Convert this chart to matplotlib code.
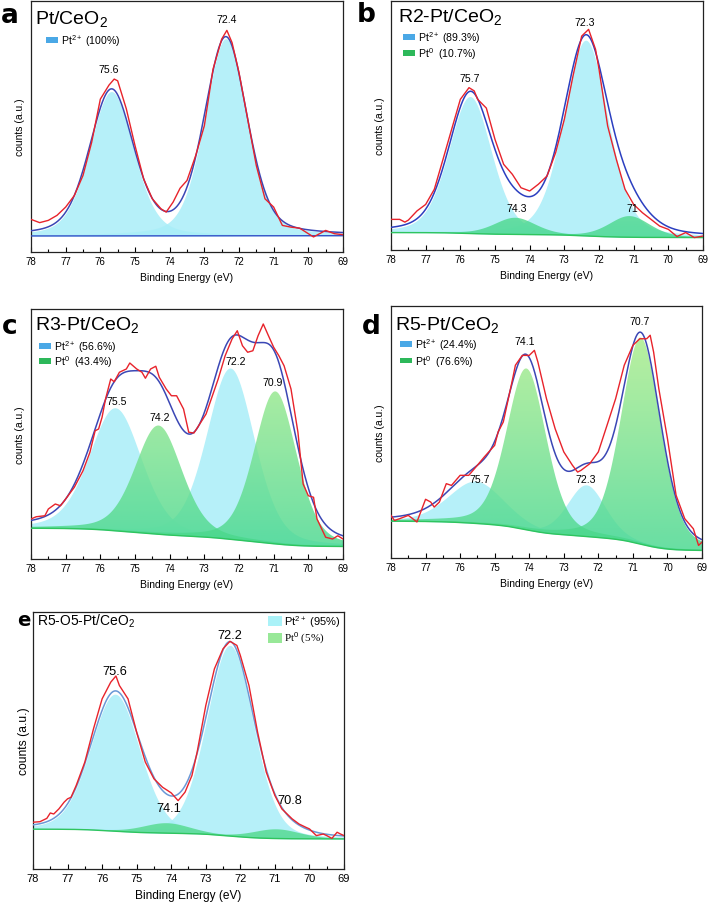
import numpy as np
import matplotlib
matplotlib.use("Agg")
import matplotlib.pyplot as plt
from matplotlib.patches import Rectangle
from matplotlib.colors import LinearSegmentedColormap

plt.rcParams['font.family'] = ['Liberation Sans', 'DejaVu Sans']
plt.rcParams['mathtext.fontset'] = 'custom'
plt.rcParams['mathtext.rm'] = 'Liberation Sans'
plt.rcParams['mathtext.it'] = 'Liberation Sans:italic'
plt.rcParams['mathtext.bf'] = 'Liberation Sans:bold'

# ---------------- DATA ----------------
x_ticks = [78, 77, 76, 75, 74, 73, 72, 71, 70, 69]

# Panel a : Pt/CeO2
a_raw_be = [78.0, 77.75, 77.5, 77.25, 77.0, 76.75, 76.5, 76.25, 76.0, 75.75, 75.6, 75.5, 75.25, 75.0,
            74.75, 74.5, 74.25, 74.1, 73.9, 73.7, 73.5, 73.25, 73.0, 72.75, 72.5, 72.35, 72.2, 72.0,
            71.75, 71.5, 71.25, 71.0, 70.75, 70.5, 70.25, 70.0, 69.85, 69.5, 69.25, 69.0]
a_raw = [13.0, 11.7, 12.6, 14.6, 17.9, 22.5, 30.5, 43.7, 60.9, 66.5, 68.9, 68.2, 57.0, 42.4,
         29.1, 21.2, 17.2, 15.9, 19.9, 25.4, 28.5, 38.4, 50.3, 72.8, 84.8, 88.3, 83.4, 71.5,
         53.0, 34.4, 21.2, 17.9, 10.6, 9.9, 9.5, 7.3, 6.0, 8.6, 7.3, 6.9]
a_pt2_center = [75.68, 72.38]
a_pt2_height = [57.5, 78.5]
a_pt2_fwhm = [1.50, 1.45]
a_pt0_center = []
a_pt0_height = []
a_pt0_fwhm = []
a_background = [6.4, 6.5]
a_peak_labels = ["75.6", "72.4"]
a_legend = ["Pt$^{2+}$ (100%)"]

# Panel b : R2-Pt/CeO2
b_raw_be = [78.0, 77.75, 77.6, 77.5, 77.25, 77.0, 76.75, 76.5, 76.25, 76.0, 75.75, 75.6, 75.5, 75.25,
            75.0, 74.75, 74.5, 74.25, 74.0, 73.75, 73.5, 73.25, 73.0, 72.75, 72.5, 72.3, 72.1, 72.0,
            71.75, 71.5, 71.25, 71.0, 70.75, 70.5, 70.25, 70.0, 69.75, 69.5, 69.25, 69.0]
b_raw = [12.3, 12.3, 11.2, 12.0, 15.7, 18.3, 24.4, 36.4, 48.5, 60.5, 65.2, 63.9, 60.5, 57.0,
         44.4, 34.4, 30.4, 25.0, 23.7, 26.4, 29.7, 39.1, 52.5, 69.9, 85.9, 88.6, 80.6, 72.6,
         49.8, 36.4, 24.4, 18.3, 15.0, 12.3, 9.6, 8.3, 5.4, 7.0, 5.0, 5.6]
b_pt2_center = [75.72, 72.38]
b_pt2_height = [55.0, 78.6]
b_pt2_fwhm = [1.46, 1.52]
b_pt0_center = [74.42, 71.12]
b_pt0_height = [6.7, 8.5]
b_pt0_fwhm = [1.4, 1.4]
b_background = [7.0, 5.0]
b_peak_labels = ["75.7", "72.3", "74.3", "71"]
b_legend = ["Pt$^{2+}$ (89.3%)", "Pt$^{0}$  (10.7%)"]

# Panel c : R3-Pt/CeO2
c_raw_be = [78.0, 77.85, 77.6, 77.5, 77.3, 77.15, 77.0, 76.75, 76.5, 76.3, 76.15, 76.05, 75.95, 75.85,
            75.7, 75.6, 75.45, 75.25, 75.15, 74.95, 74.8, 74.7, 74.55, 74.4, 74.3, 74.1, 73.95, 73.8,
            73.6, 73.45, 73.3, 73.1, 72.95, 72.8, 72.6, 72.4, 72.2, 72.05, 71.9, 71.75, 71.6, 71.45,
            71.3, 71.15, 71.0, 70.85, 70.7, 70.5, 70.3, 70.15, 70.0, 69.85, 69.75, 69.5, 69.3, 69.15, 69.0]
c_raw = [16.0, 16.9, 17.3, 20.0, 22.0, 21.3, 24.0, 28.7, 35.3, 42.7, 51.3, 52.0, 56.7, 64.0,
         72.0, 70.9, 74.7, 76.0, 78.4, 76.0, 74.7, 72.3, 76.0, 77.1, 72.7, 68.0, 65.3, 65.3,
         60.0, 50.7, 50.4, 54.7, 58.0, 64.0, 72.0, 81.3, 88.0, 91.3, 85.3, 82.7, 83.3, 89.3,
         94.0, 89.3, 84.7, 81.3, 77.3, 68.0, 50.7, 30.0, 25.3, 24.7, 16.0, 8.7, 8.0, 9.3, 8.0]
c_pt2_center = [75.57, 72.25]
c_pt2_height = [49.2, 68.5]
c_pt2_fwhm = [1.78, 1.63]
c_pt0_center = [74.32, 70.95]
c_pt0_height = [43.5, 61.0]
c_pt0_fwhm = [1.6, 1.45]
c_background = [12.3, 5.0]
c_peak_labels = ["75.5", "74.2", "72.2", "70.9"]
c_legend = ["Pt$^{2+}$ (56.6%)", "Pt$^{0}$  (43.4%)"]

# Panel d : R5-Pt/CeO2
d_raw_be = [78.0, 77.9, 77.75, 77.5, 77.4, 77.25, 77.0, 76.85, 76.75, 76.6, 76.4, 76.25, 76.0, 75.75,
            75.5, 75.3, 75.0, 74.9, 74.75, 74.5, 74.4, 74.2, 74.0, 73.85, 73.75, 73.5, 73.25, 73.0,
            72.75, 72.6, 72.5, 72.25, 72.0, 71.75, 71.5, 71.25, 71.0, 70.8, 70.6, 70.5, 70.4, 70.25,
            70.0, 69.75, 69.5, 69.25, 69.1, 69.0]
d_raw = [16.9, 14.9, 15.6, 16.9, 15.9, 14.3, 23.3, 22.2, 20.2, 22.2, 29.5, 28.8, 32.8, 32.8,
         36.8, 40.1, 44.7, 50.0, 54.0, 69.8, 76.5, 80.4, 80.4, 82.4, 77.8, 63.2, 51.3, 42.1,
         36.8, 34.1, 34.8, 37.4, 42.1, 52.6, 63.2, 76.5, 84.4, 87.0, 87.0, 88.4, 81.7, 67.2,
         47.4, 24.9, 15.6, 11.6, 5.0, 6.3]
d_pt2_center = [75.55, 72.35]
d_pt2_height = [16.8, 20.5]
d_pt2_fwhm = [1.9, 1.3]
d_pt0_center = [74.08, 70.77]
d_pt0_height = [64.0, 82.0]
d_pt0_fwhm = [1.35, 1.35]
d_background = [14.6, 3.0]
d_peak_labels = ["75.7", "74.1", "72.3", "70.7"]
d_legend = ["Pt$^{2+}$ (24.4%)", "Pt$^{0}$  (76.6%)"]

# Panel e : R5-O5-Pt/CeO2
e_raw_be = [78.0, 77.8, 77.6, 77.5, 77.4, 77.25, 77.1, 77.0, 76.9, 76.75, 76.5, 76.25, 76.0, 75.85,
            75.75, 75.6, 75.5, 75.25, 75.0, 74.75, 74.5, 74.25, 74.1, 74.0, 73.8, 73.6, 73.4, 73.25,
            73.0, 72.75, 72.5, 72.3, 72.1, 72.0, 71.75, 71.5, 71.25, 71.0, 70.8, 70.6, 70.5, 70.3,
            70.1, 70.0, 69.8, 69.6, 69.5, 69.35, 69.2, 69.1, 69.0]
e_raw = [18.2, 18.4, 19.7, 21.8, 21.4, 23.4, 26.0, 27.3, 27.9, 32.5, 41.6, 54.5, 66.2, 70.1,
         72.7, 75.1, 71.4, 66.2, 53.2, 41.6, 35.1, 31.8, 30.5, 29.6, 26.6, 29.9, 36.4, 45.5,
         63.6, 77.9, 85.7, 88.6, 87.0, 83.1, 71.4, 53.2, 37.7, 28.6, 23.4, 20.8, 19.5, 17.5,
         16.2, 15.6, 13.0, 13.6, 13.0, 11.9, 14.3, 13.6, 13.0]
e_pt2_center = [75.62, 72.3]
e_pt2_height = [53.3, 74.2]
e_pt2_fwhm = [1.68, 1.59]
e_pt0_center = [74.13, 70.95]
e_pt0_height = [3.9, 3.6]
e_pt0_fwhm = [1.6, 1.6]
e_background = [15.5, 11.7]
e_peak_labels = ["75.6", "72.2", "74.1", "70.8"]
e_legend = ["Pt$^{2+}$ (95%)", "Pt$^{0}$ (5%)"]

# ---------------- LAYOUT / STYLE ----------------
W, H = 709, 903
def rect(l, t, r, b):
    return [l / W, (H - b) / H, (r - l) / W, (b - t) / H]

panels = [
    dict(letter="a", title="Pt/CeO$_2$", rect=rect(31, 2, 343, 253),
         raw=(a_raw_be, a_raw), pt2=(a_pt2_center, a_pt2_height, a_pt2_fwhm),
         pt0=(a_pt0_center, a_pt0_height, a_pt0_fwhm), bg=a_background, eta=0.3,
         labels=a_peak_labels, label_xy=[(75.77, 72.8), (72.36, 92.7)],
         legend=a_legend, leg_x=0.048, leg_y=[0.845], title_xy=(0.013, 0.912),
         letter_xy=(1, 23), letter_size=19, env_color="#3b47b5", big=False),
    dict(letter="b", title="R2-Pt/CeO$_2$", rect=rect(391, 2, 703, 251),
         raw=(b_raw_be, b_raw), pt2=(b_pt2_center, b_pt2_height, b_pt2_fwhm),
         pt0=(b_pt0_center, b_pt0_height, b_pt0_fwhm), bg=b_background, eta=0.3,
         labels=b_peak_labels, label_xy=[(75.74, 69.2), (72.4, 91.6), (74.36, 17.0), (71.04, 16.7)],
         legend=b_legend, leg_x=0.038, leg_y=[0.855, 0.791], title_xy=(0.022, 0.92),
         letter_xy=(357, 22), letter_size=19, env_color="#2b3fc0", big=False),
    dict(letter="c", title="R3-Pt/CeO$_2$", rect=rect(31, 310, 343, 560),
         raw=(c_raw_be, c_raw), pt2=(c_pt2_center, c_pt2_height, c_pt2_fwhm),
         pt0=(c_pt0_center, c_pt0_height, c_pt0_fwhm), bg=c_background, eta=0.3,
         labels=c_peak_labels, label_xy=[(75.53, 63.3), (74.3, 56.7), (72.1, 79.3), (71.02, 70.9)],
         legend=c_legend, leg_x=0.026, leg_y=[0.852, 0.792], title_xy=(0.013, 0.92),
         letter_xy=(2, 334), letter_size=19, env_color="#3b47b5", big=False),
    dict(letter="d", title="R5-Pt/CeO$_2$", rect=rect(391, 307, 702, 559),
         raw=(d_raw_be, d_raw), pt2=(d_pt2_center, d_pt2_height, d_pt2_fwhm),
         pt0=(d_pt0_center, d_pt0_height, d_pt0_fwhm), bg=d_background, eta=0.3,
         labels=d_peak_labels, label_xy=[(75.43, 31.2), (74.13, 86.0), (72.36, 31.2), (70.8, 94.0)],
         legend=d_legend, leg_x=0.029, leg_y=[0.85, 0.783], title_xy=(0.013, 0.907),
         letter_xy=(362, 334), letter_size=19, env_color="#3b47b5", big=False),
    dict(letter="e", title="R5-O5-Pt/CeO$_2$", rect=rect(33, 613, 344, 870),
         raw=(e_raw_be, e_raw), pt2=(e_pt2_center, e_pt2_height, e_pt2_fwhm),
         pt0=(e_pt0_center, e_pt0_height, e_pt0_fwhm), bg=e_background, eta=0.2,
         labels=e_peak_labels, label_xy=[(75.63, 77.0), (72.3, 90.9), (74.08, 23.8), (70.58, 27.0)],
         legend=e_legend, leg_x=0.756, leg_y=[0.966, 0.900], title_xy=(0.013, 0.95),
         letter_xy=(17, 626), letter_size=14, env_color="#6a98d6", big=True),
]

CYAN = "#a9eef8"
green_cmap = LinearSegmentedColormap.from_list("g", ["#3fd68c", "#7fe38c", "#b6ef88"])


def pseudo_voigt(x, c, h, w, eta):
    d = (x - c) / w
    return h * (eta / (1 + 4 * d ** 2) + (1 - eta) * np.exp(-4 * np.log(2) * d ** 2))


def shirley(x, total, b_left, b_right):
    cum = np.concatenate([[0.0], np.cumsum((total[1:] + total[:-1]) / 2 * np.diff(x))])
    return b_right + (b_left - b_right) * cum / cum[-1]


fig = plt.figure(figsize=(W / 100, H / 100), dpi=100)
x = np.linspace(69, 78, 1201)

for p in panels:
    ax = fig.add_axes(p["rect"])
    big = p["big"]
    eta = p["eta"]
    comps2 = [pseudo_voigt(x, c, h, w, eta) for c, h, w in zip(*p["pt2"])]
    comps0 = [pseudo_voigt(x, c, h, w, eta) for c, h, w in zip(*p["pt0"])]
    total = np.sum(comps2 + comps0, axis=0)
    bg = shirley(x, total, p["bg"][0], p["bg"][1])

    for comp in comps2:
        ax.fill_between(x, bg, bg + comp, color=CYAN, alpha=0.85, lw=0, zorder=1)
    for comp in comps0:
        poly = ax.fill_between(x, bg, bg + comp, color="none", lw=0, zorder=2)
        grad = np.linspace(0, 1, 256).reshape(-1, 1)
        im = ax.imshow(grad, extent=[78, 69, 0, 100], aspect="auto", origin="lower",
                       cmap=green_cmap, alpha=0.8, zorder=2)
        im.set_clip_path(poly.get_paths()[0], transform=ax.transData)

    if p["letter"] == "a":
        ax.plot(x, bg, color="#3552c8", lw=1.0, zorder=3)
    else:
        ax.plot(x, bg, color="#2fc45e", lw=1.0, zorder=3)

    ax.plot(x, bg + total, color=p["env_color"], lw=1.1, zorder=4)
    ax.plot(p["raw"][0], p["raw"][1], color="#e8232b", lw=1.0, zorder=5)

    ax.set_xlim(78, 69)
    ax.set_ylim(0, 100)
    ax.set_xticks(x_ticks)
    ax.set_xticks(np.arange(69.5, 78, 1.0), minor=True)
    ax.set_yticks([])
    tfs = 8 if big else 7
    ax.tick_params(axis="x", which="major", direction="in", length=3.5, width=0.8,
                   labelsize=tfs, pad=3)
    ax.tick_params(axis="x", which="minor", direction="in", length=2, width=0.8)
    for s in ax.spines.values():
        s.set_linewidth(0.9)
        s.set_color("#222222")
    ax.set_xlabel("Binding Energy (eV)", fontsize=8.6 if big else 7.5, labelpad=4)
    ax.set_ylabel("counts (a.u.)", fontsize=8.7 if big else 7.5, labelpad=2 if big else 4)

    lfs = 9.2 if big else 7.6
    for txt, (lx, ly) in zip(p["labels"], p["label_xy"]):
        ax.text(lx, ly, txt, fontsize=lfs, ha="center", va="center", zorder=6)

    ax.text(p["title_xy"][0], p["title_xy"][1], p["title"], transform=ax.transAxes,
            fontsize=10 if big else 14, ha="left", va="baseline", zorder=6)

    # legend
    if big:
        cols = ["#aaf2f8", "#98e898"]
        pw, ph, gap = 0.045, 0.039, 0.006
        fams = [["Liberation Sans"], ["Liberation Serif"]]
        fs = 8.0
    else:
        cols = ["#4aa8e6", "#2db85a"]
        pw, ph, gap = 0.039, 0.022, 0.008
        fams = [["Liberation Sans"], ["Liberation Sans"]]
        fs = 7.6
    for i, (txt, ly) in enumerate(zip(p["legend"], p["leg_y"])):
        ax.add_patch(Rectangle((p["leg_x"], ly - ph / 2), pw, ph, transform=ax.transAxes,
                               facecolor=cols[i], edgecolor="none", zorder=6))
        ax.text(p["leg_x"] + pw + gap, ly, txt, transform=ax.transAxes, fontsize=fs,
                family=fams[i], ha="left", va="center", zorder=6)

    fig.text(p["letter_xy"][0] / W, 1 - p["letter_xy"][1] / H, p["letter"],
             fontsize=p["letter_size"], fontweight="bold", family=["DejaVu Sans"],
             ha="left", va="baseline")

fig.savefig("out.png", dpi=100)
